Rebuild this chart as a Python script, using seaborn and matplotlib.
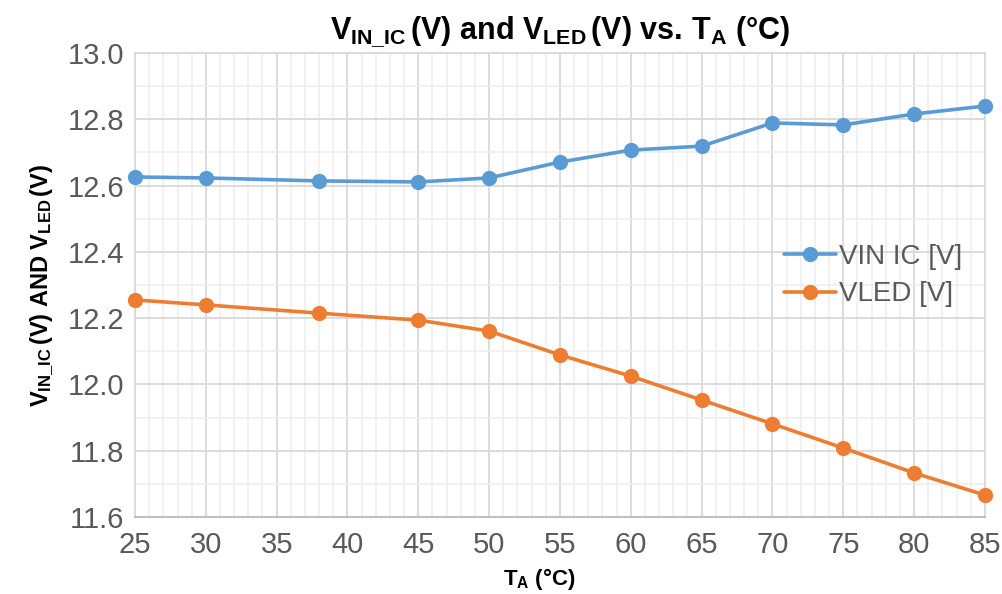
import matplotlib
matplotlib.use("Agg")
import matplotlib.pyplot as plt
from matplotlib.ticker import MultipleLocator
import seaborn as sns
import pandas as pd

temps = [25, 30, 38, 45, 50, 55, 60, 65, 70, 75, 80, 85]
vin_ic = [12.626, 12.623, 12.614, 12.611, 12.623, 12.671, 12.707, 12.719, 12.789, 12.783, 12.816, 12.840]
vled = [12.255, 12.240, 12.215, 12.194, 12.161, 12.089, 12.025, 11.953, 11.881, 11.808, 11.733, 11.666]
series_names = ["VIN IC [V]", "VLED [V]"]
colors = ["#5B9BD5", "#ED7D31"]

df = pd.DataFrame({"T": temps * 2,
                   "V": vin_ic + vled,
                   "series": [series_names[0]] * len(temps) + [series_names[1]] * len(temps)})

sns.set_theme(style="white")
plt.rcParams["font.family"] = ["Liberation Sans", "DejaVu Sans"]
plt.rcParams["mathtext.fontset"] = "custom"
plt.rcParams["mathtext.rm"] = "Liberation Sans"
plt.rcParams["mathtext.bf"] = "Liberation Sans:bold"
plt.rcParams["mathtext.it"] = "Liberation Sans:italic"

fig = plt.figure(figsize=(10.03, 5.94), dpi=100)
ax = fig.add_axes([135 / 1003, 77 / 594, 850 / 1003, 464 / 594])

sns.lineplot(data=df, x="T", y="V", hue="series", palette=colors, marker="o",
             markersize=11, markeredgewidth=0, linewidth=2.6, ax=ax, clip_on=False, zorder=5)

ax.set_xlim(25, 85)
ax.set_ylim(11.6, 13.0)
ax.xaxis.set_major_locator(MultipleLocator(5))
ax.xaxis.set_minor_locator(MultipleLocator(1))
ax.yaxis.set_major_locator(MultipleLocator(0.2))
ax.yaxis.set_minor_locator(MultipleLocator(0.1))
ax.yaxis.set_major_formatter(matplotlib.ticker.FormatStrFormatter("%.1f"))
ax.grid(which="major", color="#D9D9D9", linewidth=1.3)
ax.grid(which="minor", color="#EDEDED", linewidth=1.1)
ax.set_axisbelow(True)
for s in ["top", "right", "left"]:
    ax.spines[s].set_color("#D9D9D9")
    ax.spines[s].set_linewidth(1.3)
ax.spines["bottom"].set_color("#BFBFBF")
ax.spines["bottom"].set_linewidth(1.5)
ax.tick_params(axis="both", which="both", length=0, labelsize=21, labelcolor="#595959")
ax.tick_params(axis="x", pad=10)
ax.tick_params(axis="y", pad=8)

ax.set_title(r"$\mathbf{V_{IN\_IC}\,(V)\ and\ V_{LED}\,(V)\ vs.\,T_{A}\ (°C)}$",
             fontsize=22, pad=10, color="black")
ax.set_xlabel(r"$\mathbf{T_{A}\ (°C)}$", fontsize=16, color="black")
ax.xaxis.set_label_coords(0.476, -0.105)
ax.set_ylabel(r"$\mathbf{V_{IN\_IC}\,(V)\ AND\ V_{LED}\,(V)}$", fontsize=17, labelpad=8, color="black")

leg = ax.legend(loc="center left", bbox_to_anchor=(0.75, 0.52), frameon=False,
                fontsize=20, labelcolor="#595959", handlelength=1.9, handletextpad=0.1,
                labelspacing=0.4, borderaxespad=0)

fig.savefig("out.png", dpi=100)
